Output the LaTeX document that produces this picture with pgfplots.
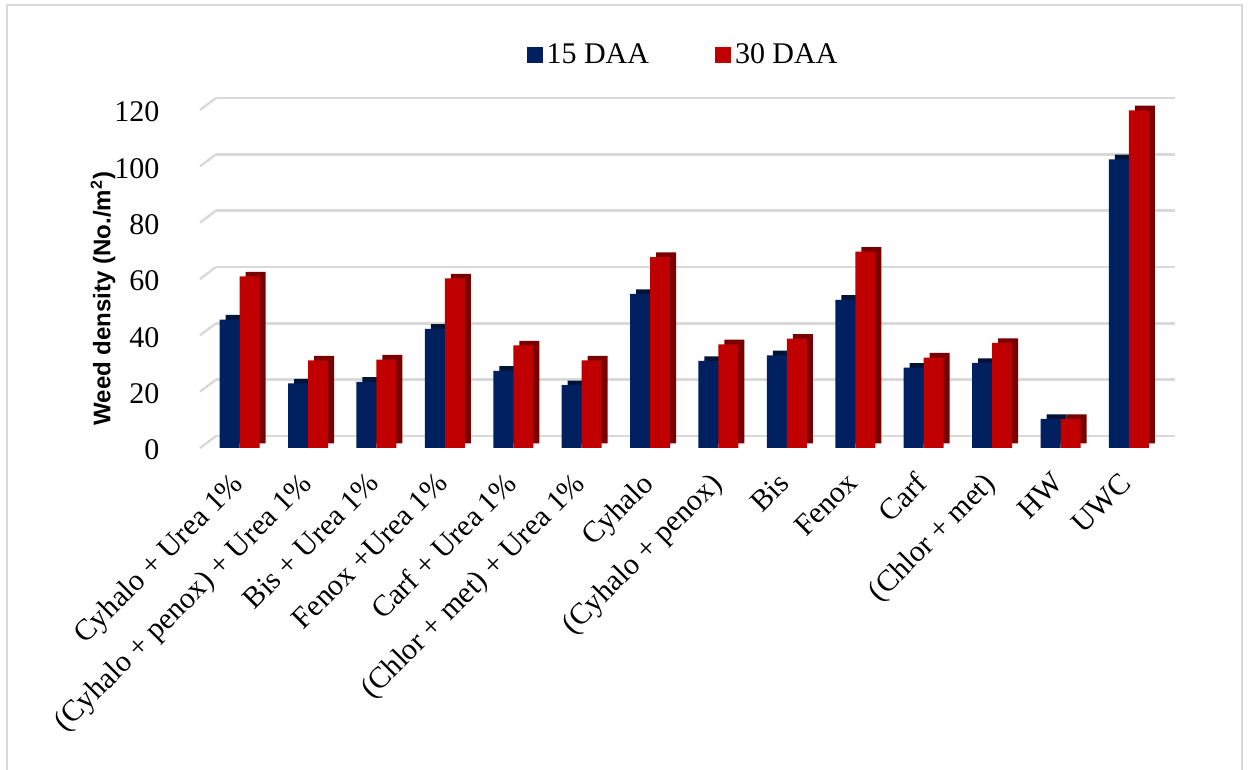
\documentclass[border=0pt]{standalone}
\usepackage{fontspec}
\setmainfont{Liberation Serif}
\setsansfont{Liberation Sans}
\usepackage{pgfplots}
\usepackage{pgfplotstable}
\pgfplotsset{compat=1.18}
\definecolor{nblue}{HTML}{002060}
\definecolor{nbluedk}{HTML}{001338}
\definecolor{nred}{HTML}{C00000}
\definecolor{nreddk}{HTML}{7A0000}
\definecolor{gridc}{HTML}{D9D9D9}
\pgfplotstableread{
x d15 d30
0 45.6 60.9
1 22.9 31.1
2 23.5 31.4
3 42.3 60.2
4 27.4 36.4
5 22.3 31.1
6 54.7 67.8
7 30.9 36.8
8 32.9 38.8
9 52.6 69.7
10 28.5 32.1
11 30.2 37.3
12 10.3 10.3
13 102.5 119.9
}\datatable
\begin{document}
\begin{tikzpicture}
\useasboundingbox (0,0) rectangle (624pt,385pt);
\draw[gridc, line width=1.2pt] (3.5pt,-5pt) rectangle (621pt,382.5pt);
\begin{axis}[
  at={(100pt,161pt)}, anchor=south west,
  scale only axis, width=479.5pt, height=169pt,
  xmin=-0.58, xmax=13.44, ymin=0, ymax=120,
  clip=false,
  axis x line=bottom, axis y line=left,
  axis line style={draw=none,-},
  tick style={draw=none},
  ytick={0,20,...,120},
  xtick={0,...,13},
  xticklabels={Cyhalo + Urea 1\%, (Cyhalo + penox) + Urea 1\%, Bis + Urea 1\%, Fenox +Urea 1\%, Carf + Urea 1\%, (Chlor + met) + Urea 1\%, Cyhalo, (Cyhalo + penox), Bis, Fenox, Carf, (Chlor + met), HW, UWC},
  /pgf/number format/assume math mode=true,
  ticklabel style={font=\fontsize{15}{18}\selectfont},
  yticklabel style={inner sep=0pt, anchor=east, yshift=-1pt},
  yticklabel shift=18pt,
  xticklabel style={xshift=-5pt, yshift=5pt, rotate=45, anchor=north east, inner sep=0pt},
  xticklabel shift=14pt,
  ymajorgrids,
  major grid style={gridc, line width=1.2pt, xshift=8pt, yshift=6pt},
  ylabel={Weed density (No./m\textsuperscript{2})},
  ylabel style={at={(axis description cs:-0.1011,0.442)}, anchor=center, rotate=0, font=\sffamily\bfseries\fontsize{12}{14}\selectfont},
  legend columns=2,
  legend style={at={(axis description cs:0.5047,1.1627)}, anchor=center, draw=none, fill=none,
    font=\fontsize{15}{18}\selectfont, inner sep=0pt,
    /tikz/every even column/.append style={column sep=31pt}},
  legend image code/.code={\fill[#1] (0pt,-4pt) rectangle (8pt,4pt);},
]
\pgfplotsinvokeforeach{0,20,...,120}{
  \draw[gridc, line width=1.2pt] (axis cs:-0.58,#1) -- ++(8pt,6pt);
}
% depth (back) faces
\addplot[ybar, bar width=10pt, bar shift=-5pt, fill=nbluedk, draw=none, xshift=3pt, yshift=2.3pt, forget plot] table[x=x, y=d15] {\datatable};
\addplot[ybar, bar width=10pt, bar shift=5pt, fill=nreddk, draw=none, xshift=3pt, yshift=2.3pt, forget plot] table[x=x, y=d30] {\datatable};
% front faces
\addplot[ybar, bar width=10pt, bar shift=-5pt, fill=nblue, draw=none] table[x=x, y=d15] {\datatable};
\addlegendentry{15 DAA}
\addplot[ybar, bar width=10pt, bar shift=5pt, fill=nred, draw=none] table[x=x, y=d30] {\datatable};
\addlegendentry{30 DAA}
\end{axis}
\end{tikzpicture}
\end{document}
